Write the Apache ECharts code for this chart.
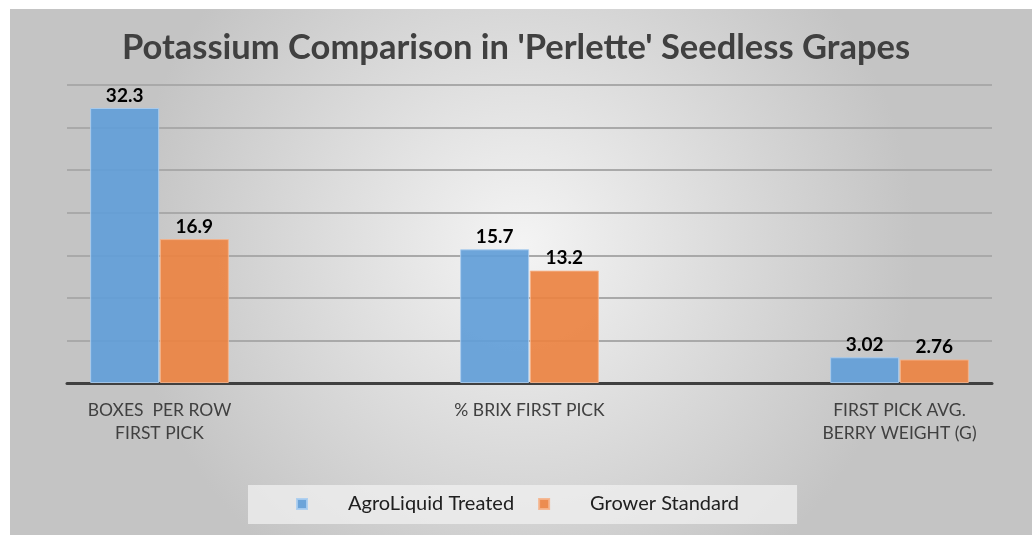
<!DOCTYPE html>
<html><head><meta charset="utf-8">
<script src="https://cdn.jsdelivr.net/npm/echarts@6/dist/echarts.min.js"></script>
<style>html,body{margin:0;padding:0;background:#fff;}#c{width:1032px;height:535px;}</style>
</head><body><div id="c"></div>
<script>
const titleText = "Potassium Comparison in 'Perlette' Seedless Grapes";
const categories = ["BOXES  PER ROW\nFIRST PICK", "% BRIX FIRST PICK", "FIRST PICK AVG.\nBERRY WEIGHT (G)"];
const seriesNames = ["AgroLiquid Treated", "Grower Standard"];
const agroValues = [32.3, 15.7, 3.02];
const growerValues = [16.9, 13.2, 2.76];
const yMin = 0, yMax = 35, yInterval = 5;

// spacer slots between categories (layout only): the original chart was cropped
function spaced(arr, blank) {
  const out = [];
  arr.forEach((v, i) => { if (i > 0) out.push(blank); out.push(v); });
  return out;
}

const chart = echarts.init(document.getElementById('c'), null, {renderer: 'canvas'});
const font = 'Lato, "Open Sans", sans-serif';
const labelCfg = {show: true, position: 'top', distance: 3, color: '#000', fontWeight: 'bold', fontSize: 19, fontFamily: font};
chart.setOption({
  animation: false,
  graphic: [{
    type: 'rect', z: -10, silent: true,
    shape: {x: 10, y: 9, width: 1022, height: 526},
    style: {fill: {type: 'radial', x: 0.5, y: 0.45, r: 0.75, colorStops: [{offset: 0, color: '#f4f4f4'}, {offset: 1, color: '#c4c4c4'}]}}
  }],
  title: {text: titleText, left: 'center', top: 25, textStyle: {fontFamily: font, fontWeight: 'bold', fontSize: 34.5, color: '#404040'}},
  legend: {
    data: seriesNames, left: 248, top: 485,
    itemWidth: 10, itemHeight: 10, icon: 'rect', itemGap: 24,
    padding: [9, 58, 10, 48],
    backgroundColor: 'rgba(240,240,240,0.75)',
    textStyle: {fontFamily: font, fontSize: 20, color: '#202020', padding: [0, 0, 0, 36]}
  },
  grid: {left: 67, right: 40, top: 85, bottom: 152, containLabel: false},
  xAxis: {type: 'category', data: spaced(categories, ''),
    axisLine: {show: true, lineStyle: {color: '#404040', width: 3}}, axisTick: {show: false},
    axisLabel: {interval: 0, fontFamily: font, fontSize: 17.5, color: '#404040', lineHeight: 23, margin: 16}},
  yAxis: {type: 'value', min: yMin, max: yMax, interval: yInterval, axisLabel: {show: false}, axisLine: {show: false}, axisTick: {show: false},
    splitLine: {show: true, lineStyle: {color: '#a9a9a9', width: 2}}},
  series: [
    {name: seriesNames[0], type: 'bar', data: spaced(agroValues, null), barWidth: 69, barGap: '1%',
     itemStyle: {color: 'rgba(98,158,216,0.92)', borderColor: 'rgba(170,205,240,0.9)', borderWidth: 1}, label: labelCfg, z: 3},
    {name: seriesNames[1], type: 'bar', data: spaced(growerValues, null), barWidth: 69,
     itemStyle: {color: 'rgba(236,131,66,0.92)', borderColor: 'rgba(245,180,140,0.9)', borderWidth: 1}, label: labelCfg, z: 3}
  ]
});
</script></body></html>
